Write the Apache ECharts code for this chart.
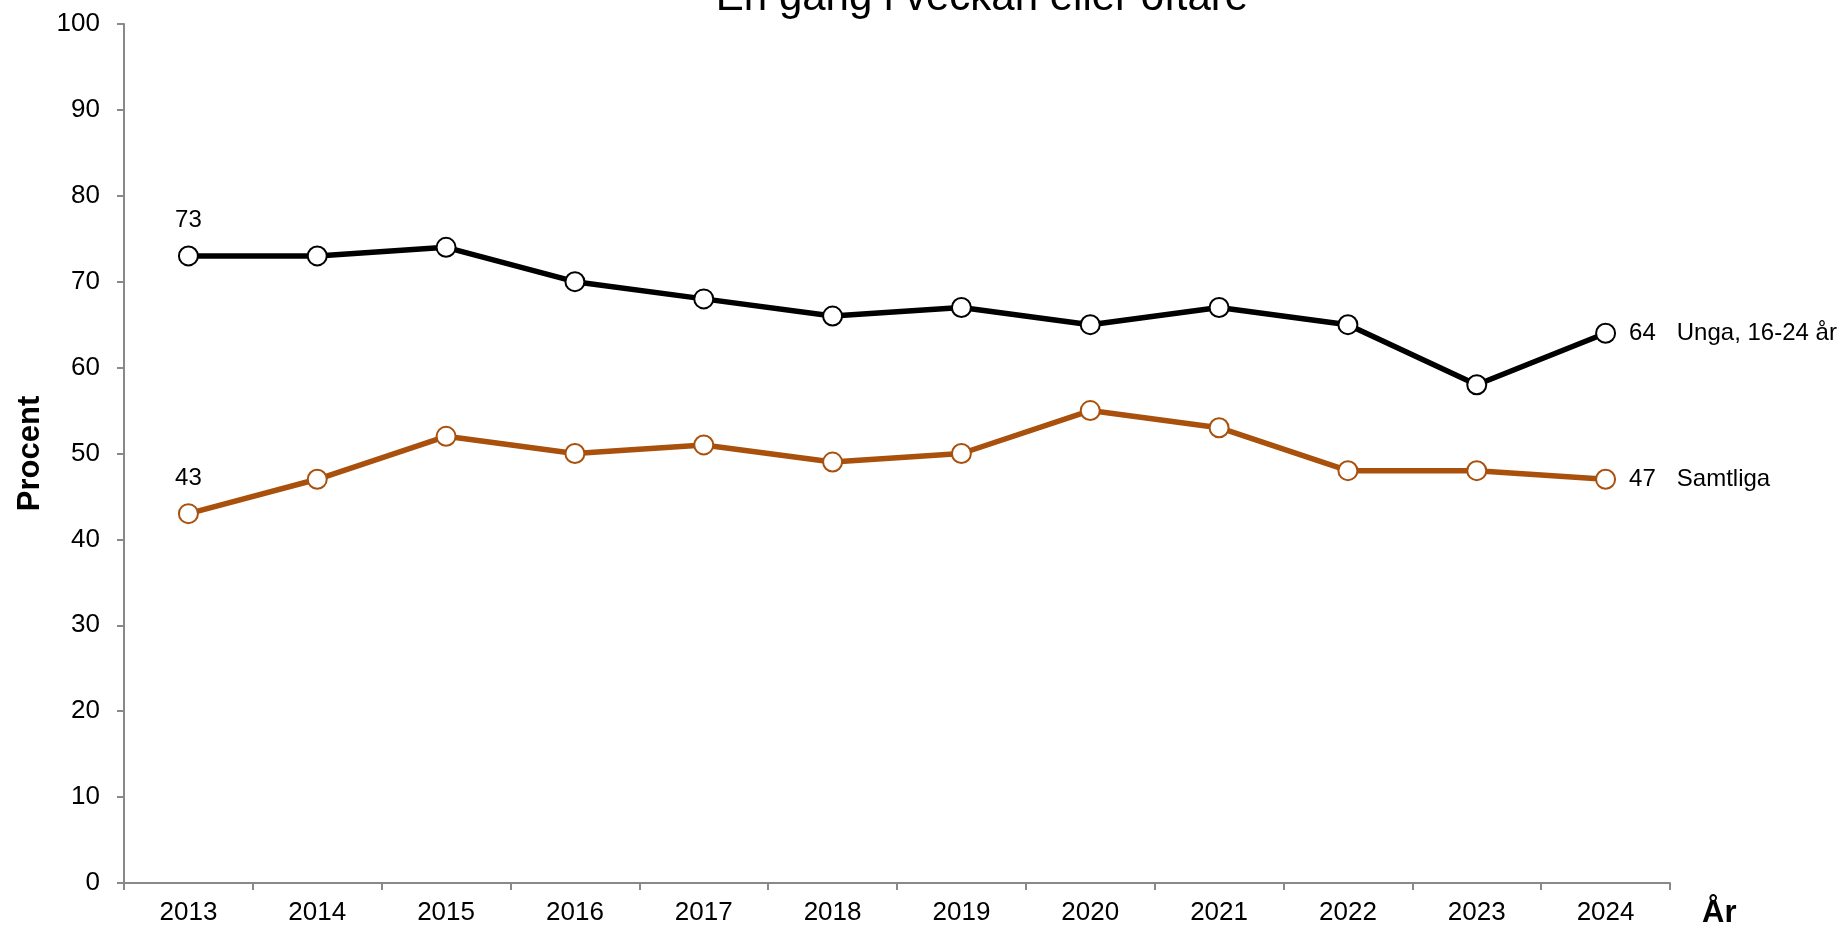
<!DOCTYPE html>
<html>
<head>
<meta charset="utf-8">
<script src="https://cdn.jsdelivr.net/npm/echarts@6/dist/echarts.min.js"></script>
<style>
  html, body { margin: 0; padding: 0; background: #fff; }
  #chart { width: 1843px; height: 929px; }
</style>
</head>
<body>
<div id="chart"></div>
<script>
const YEARS = ['2013', '2014', '2015', '2016', '2017', '2018', '2019', '2020', '2021', '2022', '2023', '2024'];
const UNGA = [73, 73, 74, 70, 68, 66, 67, 65, 67, 65, 58, 64];
const SAMTLIGA = [43, 47, 52, 50, 51, 49, 50, 55, 53, 48, 48, 47];

const FONT = 'Liberation Sans, Arial, sans-serif';
const AXIS_GREY = '#898989';
const ORANGE = '#A9500C';

const chart = echarts.init(document.getElementById('chart'));

// first point gets its value above, last point gets value + series name to the right
function makeSeries(name, data, color) {
  const last = data.length - 1;
  return {
    name: name,
    type: 'line',
    data: data.map((v, i) => {
      if (i === 0) {
        return {value: v, label: {show: true, position: 'top', distance: 13}};
      }
      if (i === last) {
        return {
          value: v,
          label: {
            show: true,
            position: 'right',
            distance: 13,
            formatter: (p) => `${p.value}{n|${name}}`,
            rich: {n: {padding: [0, 0, 0, 21], fontSize: 24, fontFamily: FONT, color: '#000'}}
          }
        };
      }
      return v;
    }),
    symbol: 'circle',
    symbolSize: 19,
    showAllSymbol: true,
    lineStyle: {color: color, width: 5.5},
    itemStyle: {color: '#fff', borderColor: color, borderWidth: 2},
    label: {show: false, color: '#000', fontSize: 24, fontFamily: FONT},
    emphasis: {disabled: true},
    z: 3
  };
}

chart.setOption({
  animation: false,
  backgroundColor: '#fff',
  title: {
    text: 'En gång i veckan eller oftare',
    left: 977,
    textAlign: 'center',
    top: -28,
    textStyle: {fontSize: 42, fontWeight: 'normal', color: '#000', fontFamily: FONT}
  },
  grid: {left: 124, right: 173, top: 24, bottom: 42, containLabel: false},
  xAxis: {
    type: 'category',
    data: YEARS,
    boundaryGap: true,
    name: 'År',
    nameLocation: 'end',
    nameGap: 32,
    nameTextStyle: {fontSize: 31, fontWeight: 'bold', color: '#000', fontFamily: FONT,
      verticalAlign: 'top', padding: [15, 0, 0, 0]},
    axisLine: {lineStyle: {color: AXIS_GREY, width: 2}},
    axisTick: {show: true, length: 7, lineStyle: {color: AXIS_GREY, width: 2}},
    axisLabel: {color: '#000', fontSize: 26, fontFamily: FONT, margin: 17},
    splitLine: {show: false}
  },
  yAxis: {
    type: 'value',
    min: 0,
    max: 100,
    interval: 10,
    name: 'Procent',
    nameLocation: 'middle',
    nameGap: 77,
    nameRotate: 90,
    nameTextStyle: {fontSize: 31, fontWeight: 'bold', color: '#000', fontFamily: FONT},
    axisLine: {show: true, lineStyle: {color: AXIS_GREY, width: 2}},
    axisTick: {show: true, length: 7, lineStyle: {color: AXIS_GREY, width: 2}},
    axisLabel: {color: '#000', fontSize: 26, fontFamily: FONT, margin: 24},
    splitLine: {show: false}
  },
  series: [
    makeSeries('Unga, 16-24 år', UNGA, '#000'),
    makeSeries('Samtliga', SAMTLIGA, ORANGE)
  ]
});
</script>
</body>
</html>
